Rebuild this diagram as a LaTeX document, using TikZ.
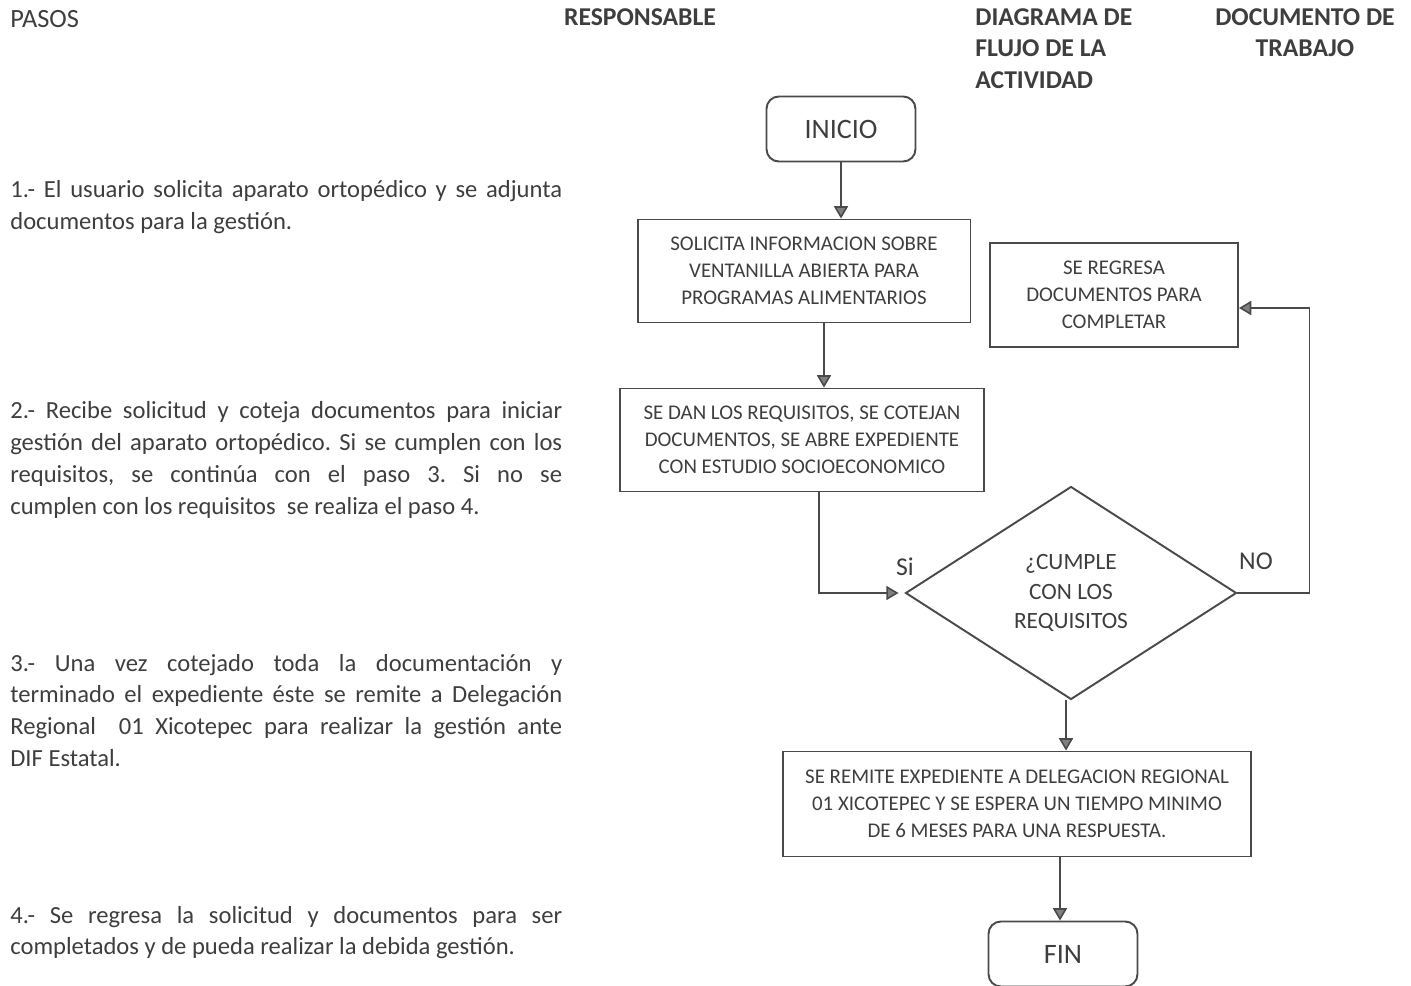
\documentclass[tikz,border=0pt]{standalone}
\usepackage{fontspec}
\setmainfont{Carlito}
\usetikzlibrary{shapes.geometric,arrows.meta}
\definecolor{tinta}{HTML}{3E3E3E}
\definecolor{trazo}{HTML}{4A4A4A}
\hyphenpenalty=10000
\exhyphenpenalty=10000
\frenchspacing
\tikzset{
	paso/.style={anchor=base west, text width=11.04cm, align=justify, inner sep=0pt,
		font=\fontsize{14}{18.1}\selectfont, text=tinta},
	titulo/.style={anchor=base, inner sep=0pt, font=\fontsize{14.6}{17.9}\selectfont\bfseries, text=tinta},
	caja/.style={draw=trazo, line width=1.1pt, align=center, inner sep=0pt, text=tinta,
		font=\fontsize{11.9}{15.3}\selectfont},
	extremo/.style={draw=trazo, line width=1.1pt, rounded corners=7pt, inner sep=0pt,
		minimum width=2.98cm, minimum height=1.3cm, text=tinta, font=\fontsize{16}{18}\selectfont},
	flecha/.style={draw=trazo, line width=0.9pt, -{Triangle[width=8pt,length=7pt,fill=gray]}},
}
\begin{document}
\begin{tikzpicture}[x=0.02cm, y=-0.02cm]
	\useasboundingbox (0,0) rectangle (1411,986);
	\node[titulo, anchor=base west, font=\fontsize{15}{17.9}\selectfont] (pasos) at (10,28) {PASOS};
	\node[titulo] (resp) at (640,26) {RESPONSABLE};
	\node[titulo, anchor=north west, align=left] (diag) at (975,8) {DIAGRAMA DE\\FLUJO DE LA\\ACTIVIDAD};
	\node[titulo, anchor=north, align=center] (doc) at (1305,8) {DOCUMENTO DE\\TRABAJO};

	\node[paso] (p1) at (10,198) {1.- El usuario solicita aparato ortopédico y se adjunta\linebreak documentos para la gestión.};
	\node[paso] (p2) at (10,419) {2.- Recibe solicitud y coteja documentos para iniciar\linebreak gestión del aparato ortopédico. Si se cumplen con los\linebreak requisitos, se continúa con el paso 3. Si no se\linebreak cumplen con los requisitos\ \ se realiza el paso 4.};
	\node[paso] (p3) at (10,671) {3.- Una vez cotejado toda la documentación y\linebreak terminado el expediente éste se remite a Delegación\linebreak Regional\ \ 01 Xicotepec para realizar la gestión ante\linebreak DIF Estatal.};
	\node[paso] (p4) at (10,923) {4.- Se regresa la solicitud y documentos para ser\linebreak completados y de pueda realizar la debida gestión.};

	\node[extremo] (inicio) at (841,129) {INICIO};
	\node[caja, minimum width=6.66cm, minimum height=2.06cm] (solicita) at (804,271)
		{SOLICITA INFORMACION SOBRE\\VENTANILLA ABIERTA PARA\\PROGRAMAS ALIMENTARIOS};
	\node[caja, minimum width=4.96cm, minimum height=2.08cm] (regresa) at (1114,295)
		{SE REGRESA\\DOCUMENTOS PARA\\COMPLETAR};
	\node[caja, minimum width=7.28cm, minimum height=2.06cm] (cotejan) at (802,440)
		{SE DAN LOS REQUISITOS, SE COTEJAN\\DOCUMENTOS, SE ABRE EXPEDIENTE\\CON ESTUDIO SOCIOECONOMICO};
	\node[caja, diamond, minimum width=6.62cm, minimum height=4.26cm, font=\fontsize{13.3}{17}\selectfont] (cumple) at (1071,593)
		{¿CUMPLE\\CON LOS\\REQUISITOS};
	\node[caja, minimum width=9.38cm, minimum height=2.1cm] (remite) at (1017,804)
		{SE REMITE EXPEDIENTE A DELEGACION REGIONAL\\01 XICOTEPEC Y SE ESPERA UN TIEMPO MINIMO\\DE 6 MESES PARA UNA RESPUESTA.};
	\node[extremo] (fin) at (1063,954) {FIN};

	\node[text=tinta, font=\fontsize{14.6}{15}\selectfont] (si) at (905,567) {Si};
	\node[text=tinta, font=\fontsize{14.6}{15}\selectfont] (no) at (1256,561) {NO};
	\coordinate (noesq) at ([xshift=1.44cm]cumple.east);

	\draw[flecha] (inicio.south) -- (inicio.south |- solicita.north);
	\draw[flecha] ([xshift=0.4cm]solicita.south) -- ([xshift=0.4cm]solicita.south |- cotejan.north);
	\draw[flecha] ([xshift=0.34cm]cotejan.south) |- ([xshift=-0.12cm]cumple.west);
	\draw[flecha] (cumple.east) -- (noesq) |- ([yshift=-0.26cm]regresa.east);
	\draw[flecha] ([xshift=-0.1cm]cumple.south) -- ([xshift=-0.1cm]cumple.south |- remite.north);
	\draw[flecha] ([xshift=0.86cm]remite.south) -- ([xshift=0.86cm]remite.south |- fin.north);
\end{tikzpicture}
\end{document}
